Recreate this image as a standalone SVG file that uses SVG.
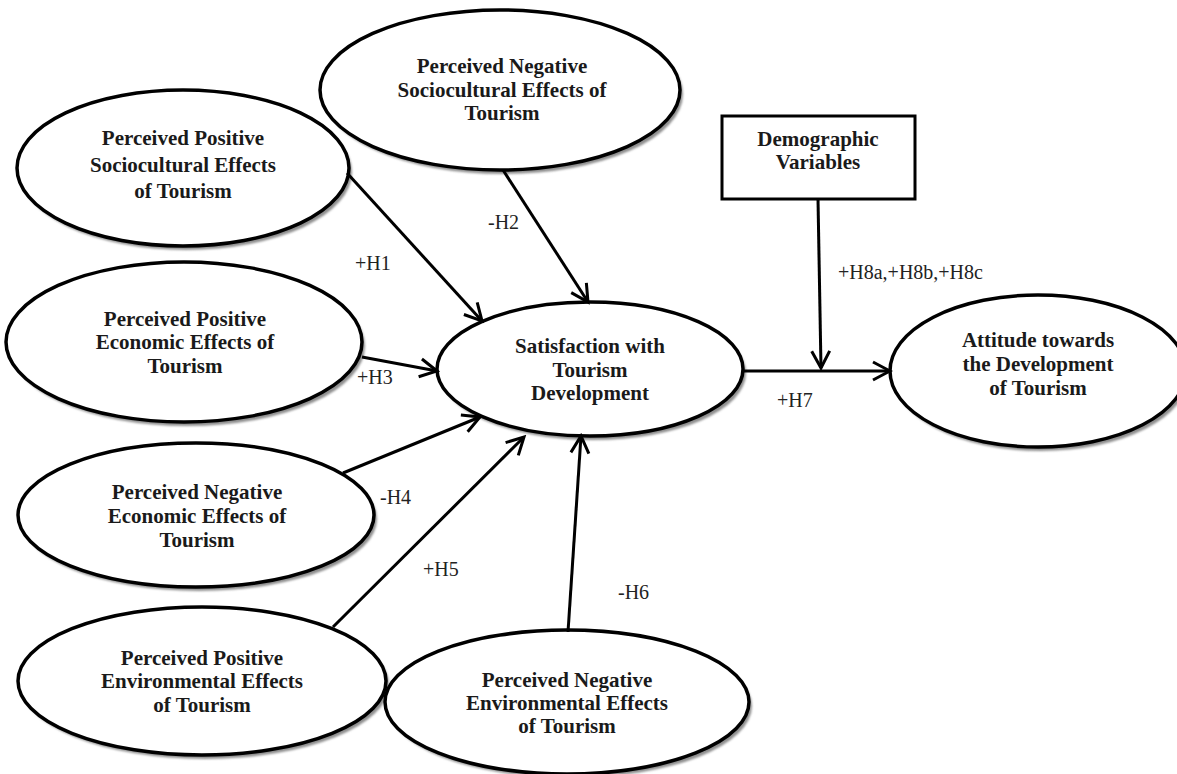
<svg xmlns="http://www.w3.org/2000/svg" width="1177" height="774" viewBox="0 0 1177 774">
<defs>
<style>
.sh{fill:#8f8f8f;stroke:none;filter:url(#blur)}
.el{fill:#fff;stroke:#000;stroke-width:3.5}
.nt{font-family:"Liberation Serif","Times New Roman",serif;font-weight:bold;font-size:21px;fill:#1a1a1a;text-anchor:middle}
.lb{font-family:"Liberation Serif","Times New Roman",serif;font-size:20px;fill:#222}
.cn{stroke:#000;stroke-width:3;fill:none;marker-end:url(#ar)}
</style>
<filter id="blur" x="-5%" y="-5%" width="110%" height="110%"><feGaussianBlur stdDeviation="1"/></filter>
<marker id="ar" markerUnits="userSpaceOnUse" markerWidth="24" markerHeight="24" viewBox="0 0 24 24" refX="21" refY="12" orient="auto">
<path d="M4,3 L21,12 L4,21" fill="none" stroke="#000" stroke-width="3"/>
</marker>
</defs>
<rect width="1177" height="774" fill="#fff"/>

<g id="pos-socio">
<ellipse class="sh" cx="186" cy="172" rx="166" ry="78"/>
<ellipse class="el" cx="183" cy="168" rx="166" ry="78"/>
<text class="nt" x="183" y="145">Perceived Positive</text>
<text class="nt" x="183" y="172">Sociocultural Effects</text>
<text class="nt" x="183" y="198">of Tourism</text>
</g>

<g id="neg-socio">
<ellipse class="sh" cx="503" cy="94" rx="180" ry="80"/>
<ellipse class="el" cx="500" cy="90" rx="180" ry="80"/>
<text class="nt" x="502" y="73">Perceived Negative</text>
<text class="nt" x="502" y="97">Sociocultural Effects of</text>
<text class="nt" x="502" y="120">Tourism</text>
</g>

<g id="pos-econ">
<ellipse class="sh" cx="187" cy="346" rx="178" ry="80"/>
<ellipse class="el" cx="184" cy="342" rx="178" ry="80"/>
<text class="nt" x="185" y="326">Perceived Positive</text>
<text class="nt" x="185" y="349">Economic Effects of</text>
<text class="nt" x="185" y="373">Tourism</text>
</g>

<g id="neg-econ">
<ellipse class="sh" cx="199" cy="519" rx="178" ry="72"/>
<ellipse class="el" cx="196" cy="515" rx="178" ry="72"/>
<text class="nt" x="197" y="499">Perceived Negative</text>
<text class="nt" x="197" y="523">Economic Effects of</text>
<text class="nt" x="197" y="547">Tourism</text>
</g>

<g id="pos-env">
<ellipse class="sh" cx="205" cy="685" rx="184" ry="74"/>
<ellipse class="el" cx="202" cy="681" rx="184" ry="74"/>
<text class="nt" x="202" y="665">Perceived Positive</text>
<text class="nt" x="202" y="688">Environmental Effects</text>
<text class="nt" x="202" y="712">of Tourism</text>
</g>

<g id="neg-env">
<ellipse class="sh" cx="570" cy="706" rx="182" ry="72"/>
<ellipse class="el" cx="567" cy="702" rx="182" ry="72"/>
<text class="nt" x="567" y="687">Perceived Negative</text>
<text class="nt" x="567" y="710">Environmental Effects</text>
<text class="nt" x="567" y="733">of Tourism</text>
</g>

<g id="satisfaction">
<ellipse class="sh" cx="593" cy="373" rx="153" ry="67"/>
<ellipse class="el" cx="590" cy="369" rx="153" ry="67"/>
<text class="nt" x="590" y="353">Satisfaction with</text>
<text class="nt" x="590" y="377">Tourism</text>
<text class="nt" x="590" y="400">Development</text>
</g>

<g id="attitude">
<ellipse class="sh" cx="1041" cy="375" rx="148" ry="76"/>
<ellipse class="el" cx="1038" cy="371" rx="148" ry="76"/>
<text class="nt" x="1038" y="347">Attitude towards</text>
<text class="nt" x="1038" y="371">the Development</text>
<text class="nt" x="1038" y="395">of Tourism</text>
</g>

<g id="demographic">
<rect x="722" y="116" width="193" height="83" fill="#fff" stroke="#000" stroke-width="3"/>
<text class="nt" x="818" y="146">Demographic</text>
<text class="nt" x="818" y="169">Variables</text>
</g>

<g id="connectors">
<line class="cn" x1="347" y1="173" x2="482" y2="321"/>
<line class="cn" x1="503" y1="170" x2="588" y2="302"/>
<line class="cn" x1="362" y1="357" x2="437" y2="371"/>
<line class="cn" x1="343" y1="473" x2="480" y2="417"/>
<line class="cn" x1="333" y1="627" x2="524" y2="437"/>
<line class="cn" x1="568" y1="632" x2="581" y2="436"/>
<line class="cn" x1="743" y1="371" x2="890" y2="371"/>
<line class="cn" x1="818" y1="199" x2="821" y2="368"/>
</g>

<g id="labels">
<text class="lb" x="355" y="270">+H1</text>
<text class="lb" x="488" y="229">-H2</text>
<text class="lb" x="357" y="384">+H3</text>
<text class="lb" x="380" y="504">-H4</text>
<text class="lb" x="423" y="576">+H5</text>
<text class="lb" x="618" y="599">-H6</text>
<text class="lb" x="777" y="407">+H7</text>
<text class="lb" x="838" y="279">+H8a,+H8b,+H8c</text>
</g>
</svg>
